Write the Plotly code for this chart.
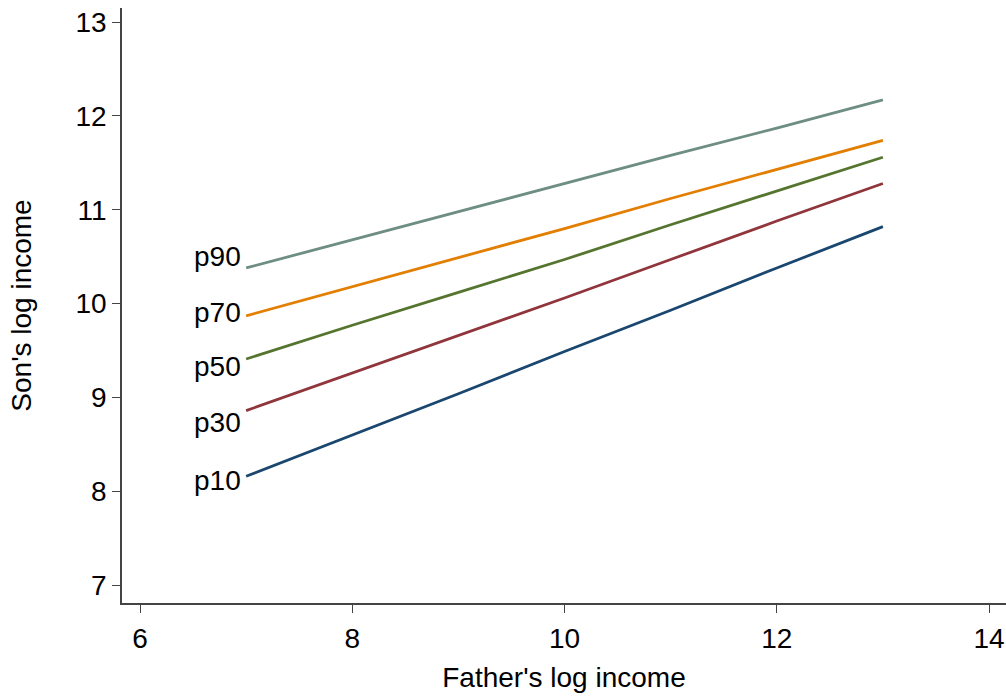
import plotly.graph_objects as go

father_x = [7, 8, 9, 10, 11, 12, 13]
p10 = [8.16, 8.60, 9.04, 9.49, 9.93, 10.38, 10.82]
p30 = [8.86, 9.26, 9.66, 10.06, 10.47, 10.88, 11.28]
p50 = [9.41, 9.77, 10.12, 10.47, 10.84, 11.20, 11.56]
p70 = [9.87, 10.18, 10.49, 10.80, 11.12, 11.43, 11.74]
p90 = [10.38, 10.68, 10.98, 11.28, 11.58, 11.87, 12.17]

series_names = ["p10", "p30", "p50", "p70", "p90"]
series_vals = [p10, p30, p50, p70, p90]
label_y = [8.12, 8.73, 9.33, 9.91, 10.50]
colors = ["#1a476f", "#90353b", "#55752f", "#e37e00", "#6e8e84"]

x_ticks = [6, 8, 10, 12, 14]
y_ticks = [7, 8, 9, 10, 11, 12, 13]

FONT = "Liberation Sans, Arial, sans-serif"
FS = 28

fig = go.Figure()
for name, vals, col in zip(series_names, series_vals, colors):
    fig.add_trace(go.Scatter(x=father_x, y=vals, mode="lines", name=name,
                             line=dict(color=col, width=2.8), showlegend=False))

for name, ly in zip(series_names, label_y):
    fig.add_annotation(x=father_x[0], y=ly, xref="x", yref="y", text=name,
                       showarrow=False, xanchor="right", yanchor="middle",
                       xshift=-3, font=dict(family=FONT, size=FS, color="#000000"))

axis_common = dict(showline=True, linecolor="#444444", linewidth=1.5,
                   ticks="outside", ticklen=8, tickwidth=1.3, tickcolor="#444444",
                   showgrid=False, zeroline=False, automargin=False,
                   ticklabeloverflow="allow",
                   tickfont=dict(family=FONT, size=FS, color="#000000"))

fig.update_layout(
    width=1006, height=698,
    margin=dict(l=122, r=0, t=8, b=95),
    paper_bgcolor="white", plot_bgcolor="white",
    xaxis=dict(range=[5.83, 14.16], tickvals=x_ticks, ticklabelstandoff=2,
               title=dict(text="Father's log income", standoff=14,
                          font=dict(family=FONT, size=FS, color="#000000")),
               **axis_common),
    yaxis=dict(range=[6.81, 13.15], tickvals=y_ticks, ticklabelstandoff=0,
               title=dict(text="Son's log income", standoff=36,
                          font=dict(family=FONT, size=FS, color="#000000")),
               **axis_common),
)

fig.write_html("out.html", config={"displayModeBar": False},
               post_script="document.body.style.margin='0';document.body.style.overflow='hidden';")
